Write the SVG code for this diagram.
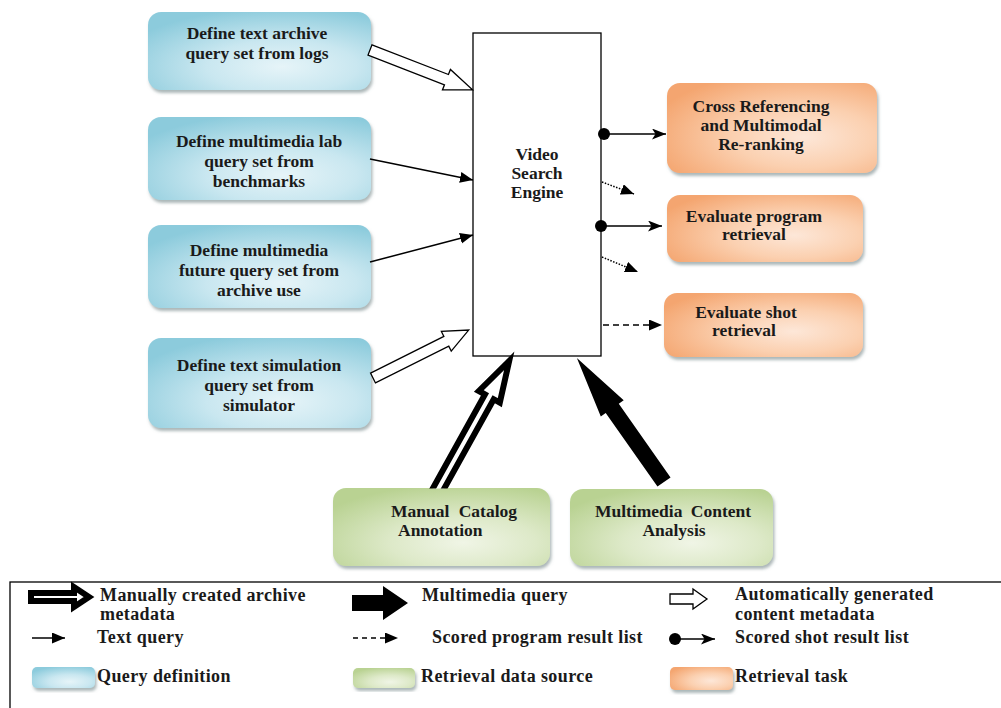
<svg xmlns="http://www.w3.org/2000/svg" width="1001" height="708" viewBox="0 0 1001 708">
<defs>
  <radialGradient id="gBlue" cx="0.6" cy="0.7" r="0.75">
    <stop offset="0" stop-color="#e6f4f8"/>
    <stop offset="0.45" stop-color="#c9e7f0"/>
    <stop offset="1" stop-color="#8ccbdc"/>
  </radialGradient>
  <radialGradient id="gOrange" cx="0.65" cy="0.6" r="0.75">
    <stop offset="0" stop-color="#fde7d8"/>
    <stop offset="0.45" stop-color="#fbd0b0"/>
    <stop offset="1" stop-color="#f4a56f"/>
  </radialGradient>
  <radialGradient id="gGreen" cx="0.6" cy="0.7" r="0.75">
    <stop offset="0" stop-color="#f0f5e6"/>
    <stop offset="0.45" stop-color="#dde9c8"/>
    <stop offset="1" stop-color="#b9d292"/>
  </radialGradient>
  <filter id="sh" x="-10%" y="-10%" width="125%" height="130%">
    <feDropShadow dx="1.5" dy="3" stdDeviation="1.5" flood-color="#6b7d80" flood-opacity="0.55"/>
  </filter>
  <clipPath id="clipTop">
    <rect x="0" y="0" width="1001" height="488.5"/>
  </clipPath>
  <marker id="tri" markerUnits="userSpaceOnUse" markerWidth="14" markerHeight="12" refX="13" refY="5.5" orient="auto">
    <path d="M0,0 L13,5.5 L0,11 z" fill="#000"/>
  </marker>
  <marker id="stealth" markerUnits="userSpaceOnUse" markerWidth="15" markerHeight="12" refX="14" refY="5.5" orient="auto">
    <path d="M0,0 L14,5.5 L0,11 L3.5,5.5 z" fill="#000"/>
  </marker>
  <marker id="dot" markerUnits="userSpaceOnUse" markerWidth="14" markerHeight="14" refX="7" refY="7" orient="auto">
    <circle cx="7" cy="7" r="6" fill="#000"/>
  </marker>
</defs>
<style>
  .t { font-family: "Liberation Serif", "Times New Roman", serif; font-weight: bold; font-size: 17.5px; fill: #1a1a1a; }
  .c { text-anchor: middle; }
  .lg { font-family: "Liberation Serif", "Times New Roman", serif; font-weight: bold; font-size: 18px; fill: #1a1a1a; letter-spacing: 0.4px; }
  .blue { fill: url(#gBlue); filter: url(#sh); }
  .orange { fill: url(#gOrange); filter: url(#sh); }
  .green { fill: url(#gGreen); filter: url(#sh); }
  .thin { stroke: #000; stroke-width: 1.5; fill: none; }
  .hollow { fill: #fff; stroke: #000; stroke-width: 1.3; stroke-linejoin: miter; }
  .dbl { fill: #fff; stroke: #000; stroke-width: 6; stroke-linejoin: miter; stroke-miterlimit: 10; }
  .solid { fill: #000; stroke: none; }
</style>
<rect width="1001" height="708" fill="#fff"/>

<!-- query definition nodes -->
<g id="q1">
  <rect class="blue" x="148" y="12" width="223" height="78" rx="13"/>
  <text class="t c" x="257" y="39">Define text archive</text>
  <text class="t c" x="257" y="59">query set from logs</text>
</g>
<g id="q2">
  <rect class="blue" x="148" y="117" width="223" height="83" rx="13"/>
  <text class="t c" x="259" y="147">Define multimedia lab</text>
  <text class="t c" x="259" y="167">query set from</text>
  <text class="t c" x="259" y="187">benchmarks</text>
</g>
<g id="q3">
  <rect class="blue" x="148" y="225" width="223" height="83" rx="13"/>
  <text class="t c" x="259" y="256">Define multimedia</text>
  <text class="t c" x="259" y="276">future query set from</text>
  <text class="t c" x="259" y="296">archive use</text>
</g>
<g id="q4">
  <rect class="blue" x="148" y="338" width="223" height="90" rx="13"/>
  <text class="t c" x="259" y="371">Define text simulation</text>
  <text class="t c" x="259" y="391">query set from</text>
  <text class="t c" x="259" y="411">simulator</text>
</g>

<!-- engine -->
<g id="engine">
  <rect x="473" y="33" width="128" height="323" fill="#fff" stroke="#000" stroke-width="1.3"/>
  <text class="t c" x="537" y="160">Video</text>
  <text class="t c" x="537" y="179">Search</text>
  <text class="t c" x="537" y="198">Engine</text>
</g>

<!-- retrieval tasks -->
<g id="r1">
  <rect class="orange" x="667" y="83" width="210" height="90" rx="13"/>
  <text class="t c" x="761" y="112">Cross Referencing</text>
  <text class="t c" x="761" y="131">and Multimodal</text>
  <text class="t c" x="761" y="150">Re-ranking</text>
</g>
<g id="r2">
  <rect class="orange" x="667" y="195" width="196" height="67" rx="13"/>
  <text class="t c" x="754" y="222">Evaluate program</text>
  <text class="t c" x="754" y="240">retrieval</text>
</g>
<g id="r3">
  <rect class="orange" x="664" y="293" width="199" height="64" rx="13"/>
  <text class="t c" x="746" y="318">Evaluate shot</text>
  <text class="t c" x="744" y="336">retrieval</text>
</g>

<!-- data sources -->
<g id="s1">
  <rect class="green" x="333" y="488" width="217" height="78" rx="13"/>
  <text class="t" x="391" y="517" word-spacing="5">Manual Catalog</text>
  <text class="t" x="398" y="536">Annotation</text>
</g>
<g id="s2">
  <rect class="green" x="570" y="489" width="203" height="77" rx="13"/>
  <text class="t c" x="673" y="517" word-spacing="4">Multimedia Content</text>
  <text class="t c" x="674" y="536">Analysis</text>
</g>

<!-- connectors -->
<g id="connectors">
  <polygon class="hollow" transform="translate(370,50) rotate(21.2)" points="0,-5.5 82,-5.5 82,-11 110,0 82,11 82,5.5 0,5.5"/>
  <line class="thin" x1="370" y1="159" x2="473" y2="180" marker-end="url(#tri)"/>
  <line class="thin" x1="370" y1="262" x2="473" y2="235" marker-end="url(#tri)"/>
  <polygon class="hollow" transform="translate(373,378) rotate(-26.6)" points="0,-5.5 82,-5.5 82,-11 107,0 82,11 82,5.5 0,5.5"/>
  <g clip-path="url(#clipTop)">
    <polygon class="dbl" transform="translate(436,493) rotate(-61)" points="0,-5 110,-5 110,-12 151,0 110,12 110,5 0,5"/>
  </g>
  <polygon class="solid" transform="translate(664,482) rotate(-125.1)" points="0,-8 90,-8 90,-14 151.5,0 90,14 90,8 0,8"/>
  <line class="thin" x1="604" y1="134" x2="666" y2="134" marker-start="url(#dot)" marker-end="url(#stealth)"/>
  <line class="thin" x1="601" y1="226" x2="662" y2="226" marker-start="url(#dot)" marker-end="url(#stealth)"/>
  <line class="thin" x1="602" y1="182" x2="634" y2="194" stroke-dasharray="1.5 1.5" marker-end="url(#tri)"/>
  <line class="thin" x1="602" y1="257" x2="638" y2="272" stroke-dasharray="1.5 1.5" marker-end="url(#tri)"/>
  <line class="thin" x1="603" y1="325" x2="662" y2="325" stroke-dasharray="6 4" marker-end="url(#tri)"/>
</g>

<!-- legend -->
<g id="legend">
  <rect x="10" y="582" width="1000" height="140" fill="none" stroke="#000" stroke-width="1.3"/>
  <polygon class="dbl" transform="translate(31,597)" points="0,-4 43,-4 43,-10 58,0 43,10 43,4 0,4"/>
  <text class="lg" x="100" y="601">Manually created archive</text>
  <text class="lg" x="100" y="620">metadata</text>
  <polygon class="solid" transform="translate(352,603)" points="0,-8 31,-8 31,-17 56,0 31,17 31,8 0,8"/>
  <text class="lg" x="422" y="601">Multimedia query</text>
  <polygon class="hollow" transform="translate(670,599)" points="0,-5 23,-5 23,-10 37,0 23,10 23,5 0,5"/>
  <text class="lg" x="735" y="600">Automatically generated</text>
  <text class="lg" x="735" y="620">content metadata</text>

  <line class="thin" x1="32" y1="638" x2="65" y2="638" marker-end="url(#tri)"/>
  <text class="lg" x="97" y="643">Text query</text>
  <line class="thin" x1="353" y1="638" x2="398" y2="638" stroke-dasharray="5 4" marker-end="url(#tri)"/>
  <text class="lg" x="432" y="643">Scored program result list</text>
  <line class="thin" x1="675" y1="639" x2="715" y2="639" marker-start="url(#dot)" marker-end="url(#stealth)"/>
  <text class="lg" x="735" y="643">Scored shot result list</text>

  <rect class="blue" x="32" y="667" width="63" height="21" rx="5"/>
  <text class="lg" x="97" y="682">Query definition</text>
  <rect class="green" x="353" y="668" width="62" height="20" rx="5"/>
  <text class="lg" x="421" y="682">Retrieval data source</text>
  <rect class="orange" x="670" y="667" width="63" height="23" rx="5"/>
  <text class="lg" x="735" y="682">Retrieval task</text>
</g>
</svg>
